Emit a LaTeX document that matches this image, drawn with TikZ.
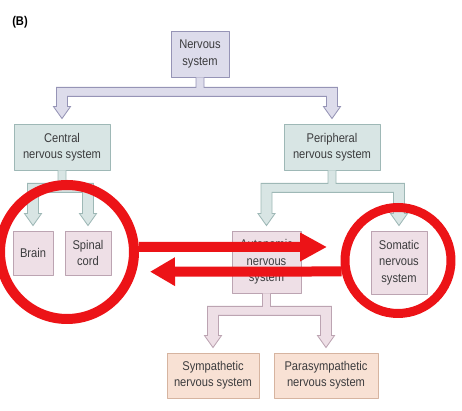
\documentclass[tikz,border=0pt]{standalone}
\usepackage{fontspec}
\setmainfont{Liberation Sans}[FakeStretch=0.88]
\usepackage{tikz}
\usetikzlibrary{calc, arrows.meta}

\definecolor{lavanda}{RGB}{221,220,235}
\definecolor{lavandabordo}{RGB}{150,148,182}
\definecolor{acqua}{RGB}{216,229,228}
\definecolor{acquabordo}{RGB}{158,184,182}
\definecolor{rosa}{RGB}{238,223,230}
\definecolor{rosabordo}{RGB}{188,164,178}
\definecolor{pesca}{RGB}{248,225,212}
\definecolor{pescabordo}{RGB}{214,180,160}
\definecolor{rosso}{RGB}{236,19,23}
\definecolor{testo}{RGB}{60,60,62}

% un pixel del disegno
\newcommand{\pxl}{0.025cm}

% tubo a T: dal genitore #1 ai figli #2 e #3
\newcommand{\ramo}[6]{%
  \draw[tubo, fill=#5, draw=#6]
    let \p1=(#1.south), \p2=(#2.north), \p3=(#3.north),
        \p4=($(#1.south)+(0,#4)$), \p5=($(#1.south)+(0,#4+9)$),
        \p6=($(#2.north)+(0,-17)$), \p7=($(#2.north)+(0,-5)$) in
    ({\x1-4*\pxl},\y1) -- ({\x1-4*\pxl},\y4) -- ({\x2-5.5*\pxl},\y4)
    -- ({\x2-5.5*\pxl},\y6) -- ({\x2-8.5*\pxl},\y6) -- (\x2,\y7)
    -- ({\x2+8.5*\pxl},\y6) -- ({\x2+5.5*\pxl},\y6) -- ({\x2+5.5*\pxl},\y5)
    -- ({\x3-5.5*\pxl},\y5) -- ({\x3-5.5*\pxl},\y6) -- ({\x3-8.5*\pxl},\y6)
    -- (\x3,\y7) -- ({\x3+8.5*\pxl},\y6) -- ({\x3+5.5*\pxl},\y6)
    -- ({\x3+5.5*\pxl},\y4) -- ({\x1+4*\pxl},\y4) -- ({\x1+4*\pxl},\y1);
}

\begin{document}
\begin{tikzpicture}[x=0.025cm, y=-0.025cm, line cap=round, line join=round,
    scatola/.style={draw, rectangle, line width=0.6pt, align=center, inner sep=0pt,
      text=testo, font=\fontsize{9}{11.7}\selectfont},
    tubo/.style={line width=0.6pt, line join=miter, line cap=butt},
    anello/.style={circle, draw=rosso, inner sep=0pt},
    freccia/.style={draw=rosso, line width=10*\pxl, line cap=butt}]
  \useasboundingbox (0,0) rectangle (462,411);

  % etichetta del pannello
  \node[text=black, font=\bfseries\fontsize{9}{11}\selectfont] (pannello) at (20,22) {(B)};

  % caselle
  \node[scatola, fill=lavanda, draw=lavandabordo, minimum width=58*\pxl, minimum height=46*\pxl] (sn) at (200,54) {Nervous\\system};
  \node[scatola, fill=acqua, draw=acquabordo, minimum width=96*\pxl, minimum height=46*\pxl] (snc) at (62,147) {Central\\nervous system};
  \node[scatola, fill=acqua, draw=acquabordo, minimum width=96*\pxl, minimum height=46*\pxl] (snp) at (332,147) {Peripheral\\nervous system};
  \node[scatola, fill=rosa, draw=rosabordo, minimum width=40*\pxl, minimum height=44*\pxl] (cervello) at (33,253) {Brain};
  \node[scatola, fill=rosa, draw=rosabordo, minimum width=46*\pxl, minimum height=44*\pxl] (midollo) at (88,253) {Spinal\\cord};
  \node[scatola, fill=rosa, draw=rosabordo, minimum width=69*\pxl, minimum height=62*\pxl] (sna) at (266.5,262) {Autonomic\\nervous\\system};
  \node[scatola, fill=rosa, draw=rosabordo, minimum width=56*\pxl, minimum height=63*\pxl] (sns) at (399,262.5) {Somatic\\nervous\\system};
  \node[scatola, fill=pesca, draw=pescabordo, minimum width=92*\pxl, minimum height=45*\pxl] (simp) at (213,375.5) {Sympathetic\\nervous system};
  \node[scatola, fill=pesca, draw=pescabordo, minimum width=104*\pxl, minimum height=45*\pxl] (parasimp) at (326,375.5) {Parasympathetic\\nervous system};

  % tubi di collegamento
  \ramo{sn}{snc}{snp}{10}{lavanda}{lavandabordo}
  \ramo{snc}{cervello}{midollo}{13}{acqua}{acquabordo}
  \ramo{snp}{sna}{sns}{13}{acqua}{acquabordo}
  \ramo{sna}{simp}{parasimp}{13}{rosa}{rosabordo}

  % cerchi rossi
  \node[anello, line width=10*\pxl, minimum size=134*\pxl] (cerchiosx) at (67,252) {};
  \node[anello, line width=9*\pxl, minimum size=106*\pxl] (cerchiodx) at (398,260.5) {};

  % frecce rosse
  \coordinate (puntaA) at (327,247);
  \coordinate (puntaB) at (150,271.7);
  \draw[freccia, -{Triangle[width=27*\pxl, length=27*\pxl]}] (cerchiosx.4) -- (puntaA);
  \draw[freccia, -{Triangle[width=27*\pxl, length=25*\pxl]}] (cerchiodx.191) -- (puntaB);
\end{tikzpicture}
\end{document}
